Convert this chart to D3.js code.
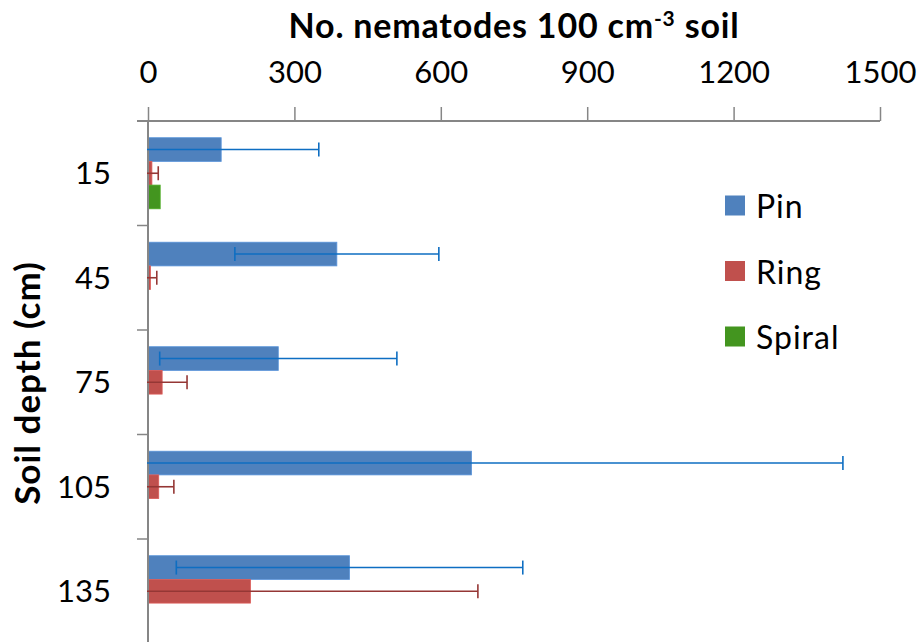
<!DOCTYPE html>
<html>
<head>
<meta charset="utf-8">
<script src="https://cdn.jsdelivr.net/npm/d3@7"></script>
<style>
  html, body { margin: 0; padding: 0; background: #fff; }
  svg { display: block; font-family: Lato, "Open Sans", sans-serif; }
</style>
</head>
<body>
<svg id="chart" width="918" height="642"></svg>
<script>
// Soil depth classes (cm) and nematode counts per 100 cm3 soil
const depths = ["15", "45", "75", "105", "135"];
const seriesNames = ["Pin", "Ring", "Spiral"];
const pinValues = [150, 387, 267, 663, 413];
const pinErrors = [200, 209, 243, 761, 355];
const ringValues = [8, 5, 29, 22, 210];
const ringErrors = [13, 13, 51, 31, 466];
const spiralValues = [25, 0, 0, 0, 0];
const spiralErrors = [null, null, null, null, null];
const xTicks = [0, 300, 600, 900, 1200, 1500];

const colors = { Pin: "#4F81BD", Ring: "#C0504D", Spiral: "#43951F" };
const errColors = { Pin: "#0E6EC2", Ring: "#953735", Spiral: "#2E6B14" };

const series = [
  { name: "Pin", values: pinValues, errors: pinErrors },
  { name: "Ring", values: ringValues, errors: ringErrors },
  { name: "Spiral", values: spiralValues, errors: spiralErrors }
];

const svg = d3.select("#chart");
const plotLeft = 148, plotRight = 880, plotTop = 121, plotBottom = 643.5;

const x = d3.scaleLinear().domain([0, 1500]).range([plotLeft, plotRight]);
const y = d3.scaleBand().domain(depths).range([plotTop, plotBottom]).padding(0);
const yInner = d3.scaleBand().domain(seriesNames).range([0, y.bandwidth()])
  .paddingInner(0).paddingOuter(0.705);

// Bars
series.forEach(s => {
  const g = svg.append("g");
  g.selectAll("rect").data(depths.map((d, i) => ({ d, v: s.values[i] })).filter(r => r.v > 0))
    .enter().append("rect")
    .attr("x", x(0))
    .attr("y", r => y(r.d) + yInner(s.name))
    .attr("width", r => x(r.v) - x(0))
    .attr("height", yInner.bandwidth())
    .attr("fill", colors[s.name])
    .attr("stroke", d3.color(colors[s.name]).brighter(0.4))
    .attr("stroke-width", 0.8);
});

// Axes
const axisColor = "#868686";
const xAxis = d3.axisTop(x).tickValues(xTicks).tickSize(14).tickPadding(24.5).tickFormat(d3.format("d"));
const gx = svg.append("g").attr("transform", `translate(0,${plotTop})`).call(xAxis);
gx.select(".domain").attr("stroke", axisColor).attr("stroke-width", 2)
  .attr("d", `M${plotLeft - 11},0H${plotRight}`);
gx.selectAll(".tick line").attr("stroke", axisColor).attr("stroke-width", 1.5);
gx.selectAll(".tick text").attr("font-size", 31).attr("fill", "#000")
  .attr("font-family", "Lato, sans-serif");

// Category ticks sit on band boundaries
const gy = svg.append("g");
gy.append("line").attr("x1", plotLeft).attr("x2", plotLeft).attr("y1", plotTop).attr("y2", plotBottom + 2)
  .attr("stroke", axisColor).attr("stroke-width", 2);
gy.selectAll("line.tk").data(depths).enter().append("line").attr("class", "tk")
  .attr("x1", plotLeft - 11).attr("x2", plotLeft)
  .attr("y1", d => y(d)).attr("y2", d => y(d))
  .attr("stroke", axisColor).attr("stroke-width", 1.5);
gy.selectAll("text").data(depths).enter().append("text")
  .attr("x", 111)
  .attr("y", d => y(d) + y.bandwidth() / 2)
  .attr("dy", "0.36em")
  .attr("text-anchor", "end")
  .attr("font-size", 31)
  .text(d => d);

// Error bars (plus direction drawn in full, minus clipped at the axis)
series.forEach(s => {
  const g = svg.append("g").attr("stroke", errColors[s.name]).attr("stroke-width", 1.6).attr("fill", "none");
  depths.forEach((d, i) => {
    const v = s.values[i], e = s.errors[i];
    if (e == null) return;
    const cy = y(d) + yInner(s.name) + yInner.bandwidth() / 2;
    const lo = v - e, hi = v + e;
    const x0 = lo < 0 ? x(0) - 1 : x(lo);
    g.append("line").attr("x1", x0).attr("x2", x(hi)).attr("y1", cy).attr("y2", cy);
    g.append("line").attr("x1", x(hi)).attr("x2", x(hi)).attr("y1", cy - 7).attr("y2", cy + 7);
    if (lo >= 0) g.append("line").attr("x1", x(lo)).attr("x2", x(lo)).attr("y1", cy - 7).attr("y2", cy + 7);
  });
});

// Axis titles
const title = svg.append("text").attr("x", 514).attr("y", 37.5).attr("text-anchor", "middle")
  .attr("font-size", 34).attr("font-weight", "bold").attr("letter-spacing", 0.8);
title.append("tspan").text("No. nematodes 100 cm");
title.append("tspan").attr("font-size", 21).attr("dy", -12).text("-3");
title.append("tspan").attr("dy", 12).text(" soil");

svg.append("text")
  .attr("transform", "translate(40,383) rotate(-90)")
  .attr("text-anchor", "middle")
  .attr("font-size", 35).attr("font-weight", "bold").attr("letter-spacing", 1)
  .text("Soil depth (cm)");

// Legend
const legend = svg.append("g");
seriesNames.forEach((n, i) => {
  const cy = 205.5 + i * 65.5;
  legend.append("rect").attr("x", 725).attr("y", cy - 10).attr("width", 20).attr("height", 20)
    .attr("fill", colors[n]);
  legend.append("text").attr("x", 756).attr("y", cy + 12.5)
    .attr("font-size", 32).attr("letter-spacing", 1).text(n);
});
</script>
</body>
</html>
